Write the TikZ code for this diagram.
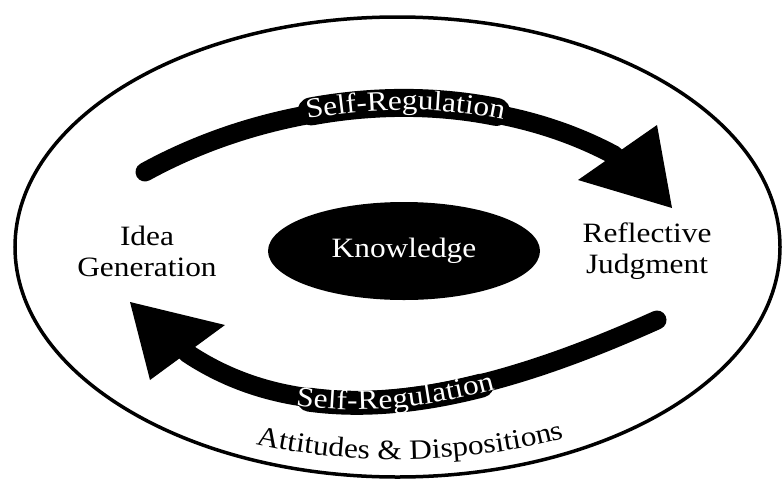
\documentclass[tikz,border=0pt]{standalone}
\usepackage{fontspec}
\setmainfont{Liberation Serif}[FakeStretch=1.12]
\usetikzlibrary{shapes.geometric,decorations.text}

\tikzset{
  band/.style={line width=19pt, line cap=round, draw=black},
  arrowhead/.style={fill=black},
  lbl/.style={font=\fontsize{28}{31}\selectfont, align=center, inner sep=0pt},
  ring/.style={draw=black, ellipse, line width=3.5pt, inner sep=0pt},
}

\begin{document}
\begin{tikzpicture}[x=1pt, y=-1pt]
  \fill[white] (0,0) rectangle (783,482);
  \useasboundingbox (0,0) rectangle (783,482);

  % outer ring: attitudes and dispositions
  \node[ring, minimum width=765pt, minimum height=460pt] (outer) at (397.5,247) {};

  % centre: knowledge
  \node[ellipse, fill=black, text=white, minimum width=272pt, minimum height=98pt,
        font=\fontsize{28}{31}\selectfont] (know) at (404,251) {Knowledge};

  % side labels
  \node[lbl] (idea) at (147,251) {Idea\\Generation};
  \node[lbl] (judge) at (647,251) {Reflective\\Judgment};

  % upper cycle arrow
  \coordinate (ts) at (145,172);
  \coordinate (te) at (614,155);
  \coordinate (ta) at (578,180);
  \coordinate (tb) at (657,125);
  \coordinate (tt) at (672,208);
  \draw[band] (ts) .. controls (285,95) and (474,80) .. (te);
  % widened stretch of the band behind its caption
  \draw[line width=28pt, line cap=round, yshift=4pt,
        dash pattern=on 186pt off 2000pt, dash phase=2008pt]
    (ts) .. controls (285,95) and (474,80) .. (te);
  \fill[arrowhead] (ta) -- (tb) -- (tt) -- cycle;

  % lower cycle arrow
  \coordinate (bs) at (657,320);
  \coordinate (be) at (187,353);
  \coordinate (ba) at (225,325);
  \coordinate (bb) at (150,380);
  \coordinate (bt) at (130,302);
  \draw[band] (bs) .. controls (497,392) and (320,442) .. (be);
  \draw[line width=24pt, line cap=round, yshift=-3pt,
        dash pattern=on 174pt off 2000pt, dash phase=2042pt]
    (be) .. controls (320,442) and (497,392) .. (bs);
  \fill[arrowhead] (ba) -- (bb) -- (bt) -- cycle;

  % band captions
  \path[decorate, decoration={text along path, raise=-4pt,
        text align={center, left indent=55pt},
        text={|\color{white}\fontsize{28}{31}\selectfont|Self-Regulation}}]
    (ts) .. controls (285,95) and (474,80) .. (te);
  \path[decorate, decoration={text along path, raise=-9pt,
        text align={center, right indent=56pt},
        text={|\color{white}\fontsize{28}{31}\selectfont|Self-Regulation}}]
    (be) .. controls (320,442) and (497,392) .. (bs);

  % ring caption
  \coordinate (as) at (226,436);
  \coordinate (ae) at (594,429);
  \path[decorate, decoration={text along path, text align=center,
        text={|\fontsize{28}{31}\selectfont|Attitudes {\&} Dispositions}}]
    (as) .. controls (330,468) and (480,468) .. (ae);
\end{tikzpicture}
\end{document}
